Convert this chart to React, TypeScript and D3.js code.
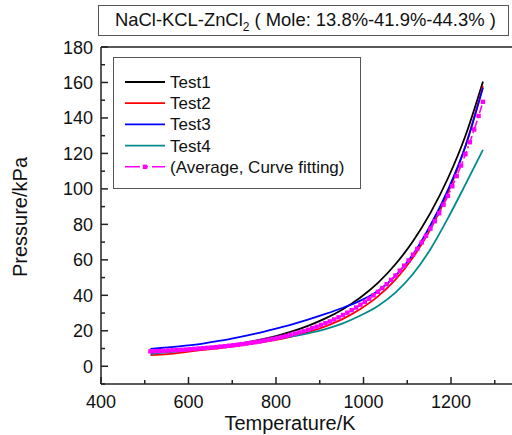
import React from "react";
import * as d3 from "d3";

const tempsTest = [513, 553, 593, 633, 673, 713, 753, 793, 833, 873, 913, 953, 993, 1033, 1073, 1113, 1153, 1193, 1233, 1273];
const test1 = [8.0, 8.5, 9.2, 10.1, 11.2, 12.6, 14.4, 16.6, 19.4, 22.8, 27.0, 32.2, 38.8, 47.0, 57.5, 70.5, 86.5, 106.0, 130.0, 160.5];
const test2 = [6.3, 6.9, 8.0, 9.2, 10.3, 11.5, 13.0, 14.6, 16.6, 19.2, 22.5, 26.7, 32.3, 39.4, 48.8, 61.3, 77.2, 97.7, 124.1, 158.0];
const test3 = [9.8, 10.6, 11.6, 12.8, 14.4, 16.3, 18.4, 20.8, 23.4, 26.3, 29.5, 33.0, 37.0, 42.5, 51.0, 63.0, 79.5, 99.5, 124.0, 157.0];
const test4 = [7.0, 7.8, 8.8, 10.2, 11.4, 12.6, 13.9, 15.2, 16.7, 18.6, 21.0, 24.2, 28.6, 34.0, 41.5, 52.0, 66.0, 83.5, 102.5, 122.0];

const tempsFit = [513, 523, 533, 543, 553, 563, 573, 583, 593, 603, 613, 623, 633, 643, 653, 663, 673, 683, 693, 703, 713, 723, 733, 743, 753, 763, 773, 783, 793, 803, 813, 823, 833, 843, 853, 863, 873, 883, 893, 903, 913, 923, 933, 943, 953, 963, 973, 983, 993, 1003, 1013, 1023, 1033, 1043, 1053, 1063, 1073, 1083, 1093, 1103, 1113, 1123, 1133, 1143, 1153, 1163, 1173, 1183, 1193, 1203, 1213, 1223, 1233, 1243, 1253, 1263, 1273];
const fitValues = [8.4, 8.5, 8.6, 8.7, 8.9, 9.0, 9.1, 9.3, 9.4, 9.6, 9.8, 10.0, 10.2, 10.4, 10.6, 10.8, 11.1, 11.3, 11.6, 11.9, 12.2, 12.5, 12.9, 13.2, 13.6, 14.0, 14.5, 15.0, 15.4, 16.0, 16.5, 17.1, 17.7, 18.4, 19.1, 19.8, 20.6, 21.5, 22.3, 23.3, 24.3, 25.3, 26.4, 27.6, 28.9, 30.2, 31.6, 33.1, 34.7, 36.3, 38.1, 40.0, 42.0, 44.1, 46.3, 48.7, 51.2, 53.9, 56.7, 59.7, 62.9, 66.2, 69.8, 73.6, 77.6, 81.8, 86.3, 91.1, 96.1, 101.5, 107.2, 113.2, 119.6, 126.3, 133.5, 141.1, 149.1];

const seriesNames = ["Test1", "Test2", "Test3", "Test4"];
const seriesColors = ["#000000", "#ff0000", "#0000ff", "#008b8b"];
const fitName = "(Average, Curve fitting)";
const fitColor = "#ff00ff";

const xMajorTicks = [400, 600, 800, 1000, 1200];
const xMinorTicks = [500, 700, 900, 1100, 1300];
const yMajorTicks = [0, 20, 40, 60, 80, 100, 120, 140, 160, 180];
const yMinorTicks = [-10, 10, 30, 50, 70, 90, 110, 130, 150, 170];

const FONT = "'Liberation Sans', Arial, sans-serif";

export default function App() {
  const W = 512, H = 435;
  const x = d3.scaleLinear().domain([400, 1400]).range([101, 538.5]);
  const y = d3.scaleLinear().domain([-10, 180]).range([384, 47]);
  const line = d3.line<[number, number]>().x(d => x(d[0])).y(d => y(d[1])).curve(d3.curveMonotoneX);
  const tests = [test1, test2, test3, test4];
  const axisColor = "#222";
  const legendX = 125;
  const legendY0 = 82;
  const legendDy = 21.2;

  return (
    <svg width={W} height={H} style={{ position: "absolute", left: 0, top: 0, background: "#fff" }} fontFamily={FONT}>
      <rect x={0} y={0} width={W} height={H} fill="#fff" />
      {/* title box */}
      <rect x={98.5} y={5.5} width={410} height={30} fill="#fff" stroke="#555" strokeWidth={1} />
      <text x={115} y={26} fontSize={18.4} fill="#111">
        NaCl-KCL-ZnCl<tspan fontSize={12} dy={5}>2</tspan><tspan dy={-5}> ( Mole: 13.8%-41.9%-44.3% )</tspan>
      </text>

      {/* frame */}
      <line x1={101} x2={W} y1={47} y2={47} stroke={axisColor} strokeWidth={1.5} />
      <line x1={101} x2={101} y1={47} y2={384} stroke={axisColor} strokeWidth={1.5} />
      <line x1={101} x2={W} y1={384} y2={384} stroke={axisColor} strokeWidth={1.5} />

      {xMajorTicks.map(t => (
        <g key={"xM" + t}>
          <line x1={x(t)} x2={x(t)} y1={384} y2={377} stroke={axisColor} strokeWidth={1.5} />
          <text x={x(t)} y={407.5} fontSize={18} textAnchor="middle" fill="#111">{t}</text>
        </g>
      ))}
      {xMinorTicks.map(t => (
        <line key={"xm" + t} x1={x(t)} x2={x(t)} y1={384} y2={380} stroke={axisColor} strokeWidth={1.5} />
      ))}
      {yMajorTicks.map(t => (
        <g key={"yM" + t}>
          <line x1={101} x2={108} y1={y(t)} y2={y(t)} stroke={axisColor} strokeWidth={1.5} />
          <text x={93} y={y(t) + 6.5} fontSize={18} textAnchor="end" fill="#111">{t}</text>
        </g>
      ))}
      {yMinorTicks.map(t => (
        <line key={"ym" + t} x1={101} x2={105} y1={y(t)} y2={y(t)} stroke={axisColor} strokeWidth={1.5} />
      ))}

      <text x={290} y={429.5} fontSize={20} textAnchor="middle" fill="#111">Temperature/K</text>
      <text transform="translate(27,217) rotate(-90)" fontSize={20} textAnchor="middle" fill="#111">Pressure/kPa</text>

      {/* series */}
      {tests.map((vals, i) => (
        <path key={seriesNames[i]} d={line(tempsTest.map((t, j) => [t, vals[j]] as [number, number])) || ""}
          fill="none" stroke={seriesColors[i]} strokeWidth={1.8} />
      ))}
      <path d={line(tempsFit.map((t, j) => [t, fitValues[j]] as [number, number])) || ""}
        fill="none" stroke={fitColor} strokeWidth={1.6} strokeDasharray="8,3,2,3" />
      {tempsFit.map((t, j) => (
        <rect key={"m" + t} x={x(t) - 2.2} y={y(fitValues[j]) - 2.2} width={4.4} height={4.4} fill={fitColor} />
      ))}

      {/* legend */}
      <rect x={113.5} y={57.5} width={247} height={131} fill="none" stroke="#555" strokeWidth={1} />
      {seriesNames.map((n, i) => (
        <g key={"lg" + n}>
          <line x1={legendX} x2={legendX + 40} y1={legendY0 + i * legendDy} y2={legendY0 + i * legendDy} stroke={seriesColors[i]} strokeWidth={1.8} />
          <text x={170} y={legendY0 + i * legendDy + 6} fontSize={17} fill="#111">{n}</text>
        </g>
      ))}
      <g>
        <line x1={legendX} x2={legendX + 40} y1={legendY0 + 4 * legendDy} y2={legendY0 + 4 * legendDy} stroke={fitColor} strokeWidth={1.6} strokeDasharray="15,4,4,4,15" />
        <rect x={legendX + 20 - 2.2} y={legendY0 + 4 * legendDy - 2.2} width={4.4} height={4.4} fill={fitColor} />
        <text x={170} y={legendY0 + 4 * legendDy + 6} fontSize={17} fill="#111">{fitName}</text>
      </g>
    </svg>
  );
}
